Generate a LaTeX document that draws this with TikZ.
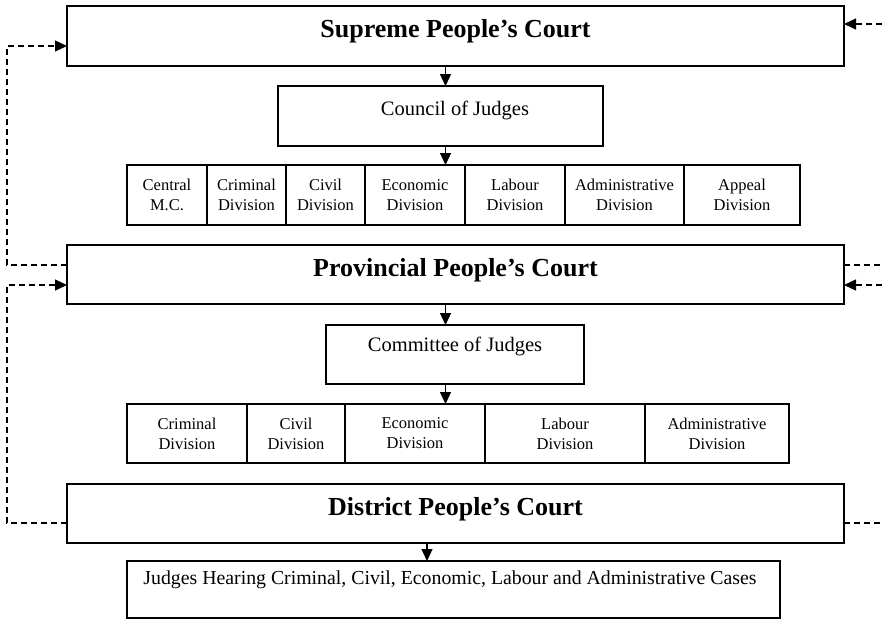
\documentclass[tikz,border=0pt]{standalone}
\usepackage{fontspec}
\setmainfont{Liberation Serif}
\usetikzlibrary{arrows.meta}
\begin{document}
\begin{tikzpicture}[x=1pt,y=-1pt,
  box/.style={draw, line width=1.2pt, inner sep=0pt, outer sep=0pt},
  divbox/.style={box, minimum height=60pt, align=center, font=\fontsize{16.5}{20}\selectfont},
  divbox2/.style={box, minimum height=59pt, align=center, font=\fontsize{16.5}{20}\selectfont},
  courttext/.style={font=\fontsize{26}{30}\selectfont\bfseries},
  midtext/.style={font=\fontsize{20.5}{24}\selectfont},
  judgetext/.style={font=\fontsize{19.8}{24}\selectfont},
  arr/.style={line width=1.2pt, -{Triangle[length=12pt,width=11pt]}},
  dashline/.style={line width=1.2pt, dash pattern=on 6pt off 4pt},
  dasharr/.style={dashline, -{Triangle[length=12pt,width=11pt]}}
]
\useasboundingbox (0,0) rectangle (882,619);

% main court boxes
\node[box, minimum width=777pt, minimum height=60pt] (sup) at (455.5,36) {};
\node[courttext] (suptxt) at (455.5,31) {Supreme People's Court};
\node[box, minimum width=777pt, minimum height=59pt] (prov) at (455.5,274.5) {};
\node[courttext] (provtxt) at (455.5,270) {Provincial People's Court};
\node[box, minimum width=777pt, minimum height=59pt] (dist) at (455.5,513.5) {};
\node[courttext] (disttxt) at (455.5,509) {District People's Court};

% council / committee
\node[box, minimum width=325pt, minimum height=60pt] (council) at (440.5,116) {};
\node[midtext] (counciltxt) at (455,110) {Council of Judges};
\node[box, minimum width=258pt, minimum height=59pt] (committee) at (455,354.5) {};
\node[midtext] (committeetxt) at (455,346) {Committee of Judges};

% supreme divisions
\node[divbox, minimum width=80pt]  (s1) at (167,195)   {Central\\M.C.};
\node[divbox, minimum width=79pt]  (s2) at (246.5,195) {Criminal\\Division};
\node[divbox, minimum width=79pt]  (s3) at (325.5,195) {Civil\\Division};
\node[divbox, minimum width=100pt] (s4) at (415,195)   {Economic\\Division};
\node[divbox, minimum width=100pt] (s5) at (515,195)   {Labour\\Division};
\node[divbox, minimum width=119pt] (s6) at (624.5,195) {Administrative\\Division};
\node[divbox, minimum width=116pt] (s7) at (742,195)   {Appeal\\Division};

% provincial divisions
\node[divbox2, minimum width=120pt] (p1) at (187,433.5) {Criminal\\Division};
\node[divbox2, minimum width=98pt]  (p2) at (296,433.5) {Civil\\Division};
\node[divbox2, minimum width=140pt] (p3) at (415,433.5) {Economic\\Division};
\node[divbox2, minimum width=160pt] (p4) at (565,433.5) {Labour\\Division};
\node[divbox2, minimum width=144pt] (p5) at (717,433.5) {Administrative\\Division};

% judges
\node[box, minimum width=653pt, minimum height=57pt] (judges) at (453.5,589.5) {};
\node[judgetext] (judgestxt) at (450,580) {Judges Hearing Criminal, Civil, Economic, Labour and Administrative Cases};

% vertical arrows
\draw[arr] (sup.south -| 445.5,0) -- (council.north -| 445.5,0);
\draw[arr] (council.south -| 445.5,0) -- (s4.north -| 445.5,0);
\draw[arr] (prov.south -| 445.5,0) -- (committee.north -| 445.5,0);
\draw[arr] (committee.south -| 445.5,0) -- (p3.north -| 445.5,0);
\draw[arr] (dist.south -| 427,0) -- (judges.north -| 427,0);

% free ends on the right
\coordinate (r1) at (882,24);
\coordinate (r2) at (882,265);
\coordinate (r3) at (882,285);
\coordinate (r4) at (882,523);

% dashed connectors left
\draw[dasharr] (prov.west |- 0,265) -- (7,265) -- (7,46) -- (sup.west |- 0,46);
\draw[dasharr] (dist.west |- 0,523) -- (7,523) -- (7,285) -- (prov.west |- 0,285);

% dashed connectors right
\draw[dasharr] (r1) -- (sup.east |- r1);
\draw[dashline] (prov.east |- r2) -- (r2);
\draw[dasharr] (r3) -- (prov.east |- r3);
\draw[dashline] (dist.east |- r4) -- (r4);
\end{tikzpicture}
\end{document}
